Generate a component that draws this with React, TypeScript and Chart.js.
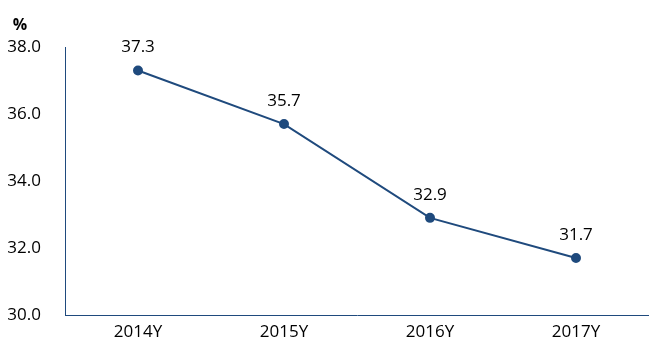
import React, { useEffect, useRef } from "react";
import { Chart, registerables } from "chart.js";

Chart.register(...registerables);

const categories = ["2014Y", "2015Y", "2016Y", "2017Y"];
const values = [37.3, 35.7, 32.9, 31.7];
const yMin = 30;
const yMax = 38;
const yStep = 2;
const unitLabel = "%";

const FONT = "'Open Sans', 'Liberation Sans', sans-serif";
const BLUE = "#1f4a7d";

export default function App() {
  const ref = useRef<HTMLCanvasElement | null>(null);
  useEffect(() => {
    document.body.style.margin = "0";
    const labelPlugin = {
      id: "labels",
      afterDatasetsDraw(chart: any) {
        const ctx = chart.ctx;
        const meta = chart.getDatasetMeta(0);
        ctx.save();
        ctx.font = `17px ${FONT}`;
        ctx.fillStyle = "#000";
        ctx.textAlign = "center";
        ctx.textBaseline = "middle";
        meta.data.forEach((pt: any, i: number) => {
          ctx.fillText(values[i].toFixed(1), pt.x, pt.y - 23);
        });
        ctx.font = `bold 16px ${FONT}`;
        ctx.fillText(unitLabel, chart.chartArea.left - 45, chart.chartArea.top - 22);
        ctx.restore();
      },
    };
    const chart = new Chart(ref.current!, {
      type: "line",
      data: {
        labels: categories,
        datasets: [
          {
            data: values,
            borderColor: BLUE,
            backgroundColor: BLUE,
            borderWidth: 2,
            pointRadius: 4,
            pointBackgroundColor: BLUE,
            pointBorderColor: BLUE,
            tension: 0,
          },
        ],
      },
      options: {
        animation: false,
        responsive: false,
        maintainAspectRatio: false,
        layout: { autoPadding: false, padding: { top: 47, left: 0, right: 0, bottom: 0 } },
        plugins: { legend: { display: false }, tooltip: { enabled: false } },
        scales: {
          x: {
            offset: true,
            grid: { display: false, drawTicks: false },
            border: { display: true, color: BLUE, width: 1 },
            ticks: { color: "#000", font: { family: FONT, size: 17 }, padding: 7, maxRotation: 0 },
            afterFit: (s: any) => { s.height = 40; },
          },
          y: {
            min: yMin,
            max: yMax,
            grid: { display: false, drawTicks: false },
            border: { display: true, color: BLUE, width: 1 },
            ticks: {
              stepSize: yStep,
              color: "#000",
              font: { family: FONT, size: 17 },
              padding: 24,
              callback: (v: any) => Number(v).toFixed(1),
            },
            afterFit: (s: any) => { s.width = 65; },
          },
        },
      },
      plugins: [labelPlugin],
    });
    return () => chart.destroy();
  }, []);
  return (
    <div style={{ position: "absolute", left: 0, top: 0, width: 649, height: 355, background: "#fff" }}>
      <canvas ref={ref} width={649} height={355} />
    </div>
  );
}
